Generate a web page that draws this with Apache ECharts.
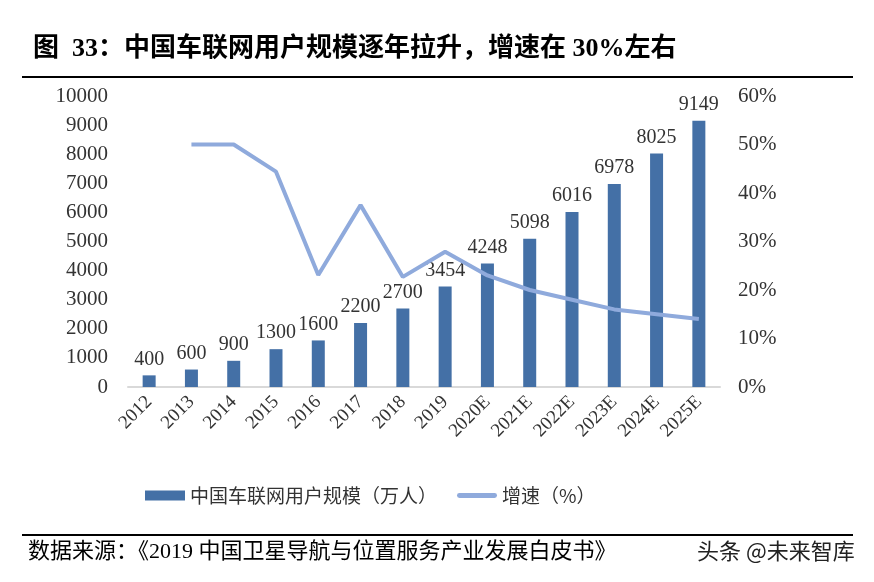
<!DOCTYPE html>
<html>
<head>
<meta charset="utf-8">
<script src="https://cdn.jsdelivr.net/npm/echarts@6/dist/echarts.min.js"></script>
<style>
html,body{margin:0;padding:0;background:#fff;}
#c{width:874px;height:582px;}
</style>
</head>
<body>
<div id="c"></div>
<script>
var categories = ['2012','2013','2014','2015','2016','2017','2018','2019','2020E','2021E','2022E','2023E','2024E','2025E'];
var users = [400,600,900,1300,1600,2200,2700,3454,4248,5098,6016,6978,8025,9149];
var growth = [null,50,50,44.4,23.1,37.5,22.7,27.9,23.0,20.0,18.0,16.0,15.0,14.0];
var leftTicks = ['0','1000','2000','3000','4000','5000','6000','7000','8000','9000','10000'];
var rightTicks = ['0%','10%','20%','30%','40%','50%','60%'];

var serif = '"Liberation Serif","Noto Sans CJK SC",serif';
var chart = echarts.init(document.getElementById('c'));
chart.setOption({
  animation:false,
  backgroundColor:'#fff',
  title:{
    text:'图  33：中国车联网用户规模逐年拉升，增速在 30%左右',
    left:28, top:31,
    textStyle:{fontFamily:serif,fontSize:26,fontWeight:'bold',color:'#000'}
  },
  graphic:[
    {type:'line',shape:{x1:22,y1:77,x2:853,y2:77},style:{stroke:'#000',lineWidth:2}},
    {type:'line',shape:{x1:22,y1:535,x2:853,y2:535},style:{stroke:'#000',lineWidth:2}},
    {type:'text',left:28,top:541,style:{text:'数据来源：《2019 中国卫星导航与位置服务产业发展白皮书》',font:'22px '+serif,fill:'#000'}},
    {type:'text',left:697,top:540,style:{text:'头条 @未来智库',font:'22px "Noto Sans CJK SC",sans-serif',fill:'#222'}}
  ],
  legend:{
    bottom:72,left:140,itemGap:20,itemWidth:40,itemHeight:10,
    textStyle:{fontFamily:'"Noto Sans CJK SC",sans-serif',fontSize:19,color:'#333'},
    data:[{name:'中国车联网用户规模（万人）',icon:'rect'},
          {name:'增速（%）',icon:'path://M2,0 L38,0 A2.5,2.5 0 0 1 38,5 L2,5 A2.5,2.5 0 0 1 2,0 Z'}]
  },
  grid:{left:128,right:154,top:96,bottom:195},
  xAxis:{
    type:'category',data:categories,
    axisLine:{lineStyle:{color:'#d9d9d9',width:2}},
    axisTick:{show:false},
    axisLabel:{rotate:45,fontFamily:serif,fontSize:19,color:'#333',interval:0,margin:12}
  },
  yAxis:[
    {type:'value',min:0,max:10000,interval:1000,
     splitLine:{show:false},axisLine:{show:false},axisTick:{show:false},
     axisLabel:{fontFamily:serif,fontSize:21,color:'#333',margin:20,formatter:function(v){return leftTicks[v/1000];}}},
    {type:'value',min:0,max:60,interval:10,
     splitLine:{show:false},axisLine:{show:false},axisTick:{show:false},
     axisLabel:{fontFamily:serif,fontSize:21,color:'#333',margin:18,formatter:function(v){return rightTicks[v/10];}}}
  ],
  series:[
    {name:'中国车联网用户规模（万人）',type:'bar',data:users,barWidth:13,
     itemStyle:{color:'#4470A6'},
     label:{show:true,position:'top',fontFamily:serif,fontSize:20,color:'#333',distance:6}},
    {name:'增速（%）',type:'line',yAxisIndex:1,data:growth,symbol:'none',
     lineStyle:{color:'#8FAADC',width:4},itemStyle:{color:'#8FAADC'}}
  ]
});
</script>
</body>
</html>
